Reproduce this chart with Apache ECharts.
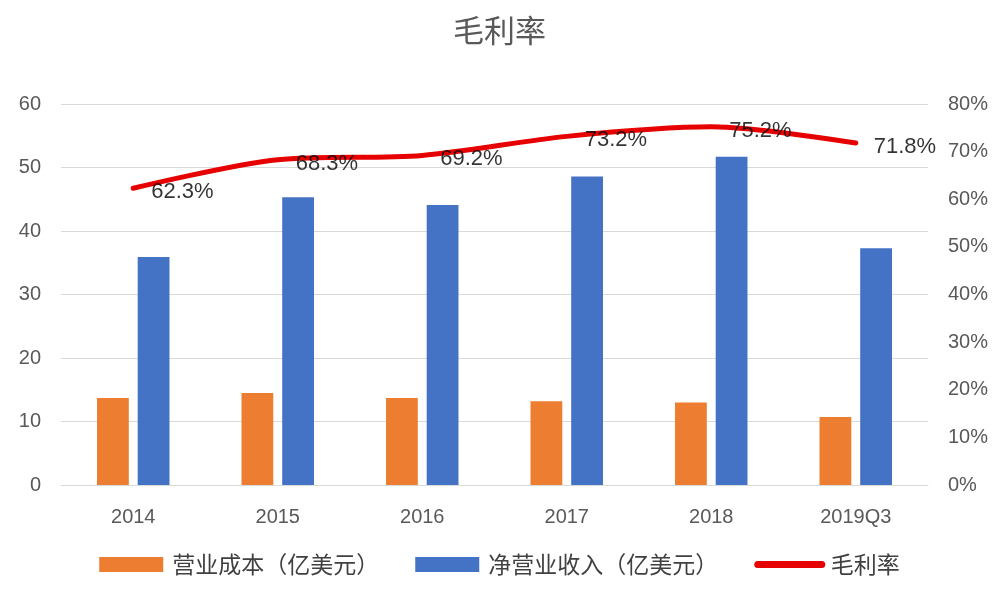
<!DOCTYPE html>
<html>
<head>
<meta charset="utf-8">
<script src="https://cdn.jsdelivr.net/npm/echarts@6/dist/echarts.min.js"></script>
<style>
  html, body { margin: 0; padding: 0; background: #fff; }
  #chart { width: 999px; height: 599px; }
</style>
</head>
<body>
<div id="chart"></div>
<script>
  // 年份
  const categories = ['2014', '2015', '2016', '2017', '2018', '2019Q3'];
  // 营业成本（亿美元）
  const costValues = [13.7, 14.5, 13.7, 13.2, 13.0, 10.7];
  // 净营业收入（亿美元）
  const revenueValues = [35.9, 45.3, 44.1, 48.6, 51.7, 37.3];
  // 毛利率 %
  const marginValues = [62.3, 68.3, 69.2, 73.2, 75.2, 71.8];

  const grey = '#595959';
  const fontCJK = '"Noto Sans CJK SC", "Noto Sans", sans-serif';
  const fontNum = 'Arial, "Liberation Sans", sans-serif';

  let chart = echarts.init(document.getElementById('chart'));
  let options = {
    animation: false,
    backgroundColor: '#fff',
    title: {
      text: '毛利率',
      left: 'center',
      top: 10,
      textStyle: {
        color: grey,
        fontSize: 31,
        fontWeight: 'normal',
        fontFamily: fontCJK
      }
    },
    grid: {
      left: 61,
      right: 71,
      top: 104,
      bottom: 114
    },
    legend: {
      bottom: 18,
      left: 'center',
      itemWidth: 64,
      itemHeight: 15,
      itemGap: 36,
      textStyle: {
        color: '#404040',
        fontSize: 23,
        fontFamily: fontCJK,
        padding: [0, 0, 0, 4]
      },
      data: [
        { name: '营业成本（亿美元）', icon: 'rect' },
        { name: '净营业收入（亿美元）', icon: 'rect' },
        { name: '毛利率', lineStyle: { width: 7 }, itemStyle: { opacity: 0 } }
      ]
    },
    xAxis: [{
      type: 'category',
      data: categories,
      axisLine: { show: true, lineStyle: { color: '#d9d9d9', width: 1 } },
      axisTick: { show: false },
      axisLabel: {
        color: grey,
        fontSize: 20,
        margin: 22,
        fontFamily: fontNum
      }
    }],
    yAxis: [{
      type: 'value',
      min: 0,
      max: 60,
      interval: 10,
      axisLine: { show: false },
      axisTick: { show: false },
      splitLine: { lineStyle: { color: '#d9d9d9', width: 1 } },
      axisLabel: {
        color: grey,
        fontSize: 20,
        margin: 20,
        fontFamily: fontNum
      }
    }, {
      type: 'value',
      min: 0,
      max: 80,
      interval: 10,
      axisLine: { show: false },
      axisTick: { show: false },
      splitLine: { show: false },
      axisLabel: {
        color: grey,
        fontSize: 20,
        margin: 20,
        formatter: '{value}%',
        fontFamily: fontNum
      }
    }],
    series: [{
      name: '营业成本（亿美元）',
      type: 'bar',
      barWidth: '22%',
      barGap: '28%',
      itemStyle: { color: '#ed7d31' },
      data: costValues
    }, {
      name: '净营业收入（亿美元）',
      type: 'bar',
      barWidth: '22%',
      itemStyle: { color: '#4472c4' },
      data: revenueValues
    }, {
      name: '毛利率',
      type: 'line',
      yAxisIndex: 1,
      smooth: 0.3,
      symbol: 'none',
      lineStyle: { color: '#e60000', width: 5, cap: 'round' },
      itemStyle: { color: '#e60000' },
      data: marginValues
    }, {
      // 毛利率数据标签
      name: '毛利率标签',
      type: 'scatter',
      yAxisIndex: 1,
      symbolSize: 0,
      silent: true,
      z: 10,
      label: {
        show: true,
        position: 'right',
        distance: 18,
        offset: [0, 4],
        color: '#000000',
        textBorderWidth: 0,
        fontSize: 22,
        fontFamily: fontNum,
        formatter: p => p.value.toFixed(1) + '%'
      },
      data: marginValues
    }]
  };
  chart.setOption(options);
</script>
</body>
</html>
